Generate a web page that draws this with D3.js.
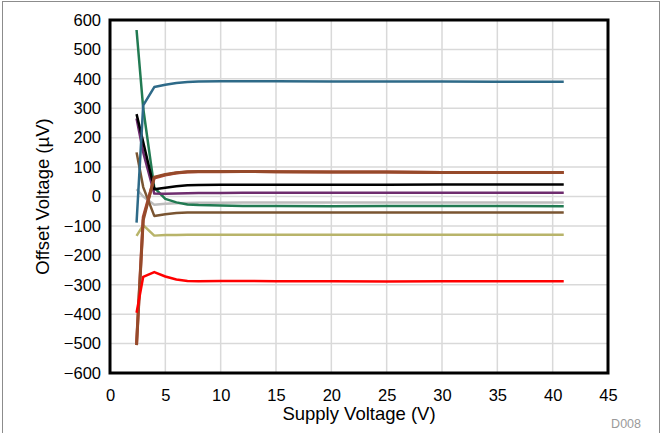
<!DOCTYPE html>
<html>
<head>
<meta charset="utf-8">
<script src="https://cdn.jsdelivr.net/npm/d3@7"></script>
<style>
  html, body { margin: 0; padding: 0; background: #fff; }
  svg { display: block; font-family: "Liberation Sans", Arial, sans-serif; }
</style>
</head>
<body>
<svg id="chart" width="661" height="433"></svg>
<script>
// Supply voltage sample points (V)
const supplyVoltage = [2.4, 3, 4, 5, 6, 7, 8, 10, 12, 15, 20, 25, 30, 35, 41];

// Offset voltage per unit (µV)
const unitBlue    = [-89, 310, 372, 380, 386, 389, 391, 392, 392, 392, 391, 391, 391, 390, 390];
const unitGreen   = [566, 300, 30, -8, -20, -27, -29, -31, -32, -32, -33, -32, -32, -32, -33];
const unitBlack   = [280, 185, 25, 30, 35, 38, 39, 40, 40, 40, 40, 40, 41, 41, 41];
const unitPurple  = [265, 150, 10, 9, 10, 11, 12, 12, 13, 13, 13, 13, 13, 13, 13];
const unitGray    = [25, 0, -28, -25, -23, -22, -21, -21, -20, -20, -20, -20, -20, -20, -20];
const unitBrown   = [150, 32, -66, -60, -56, -54, -54, -54, -54, -54, -54, -54, -54, -54, -54];
const unitRust    = [-500, -70, 63, 73, 80, 83, 84, 84, 85, 84, 83, 83, 82, 82, 82];
const unitSienna  = [-505, -80, 66, 75, 81, 84, 85, 85, 85, 84, 83, 83, 82, 82, 82];
const unitKhaki   = [-134, -97, -133, -131, -131, -130, -130, -130, -130, -130, -130, -130, -130, -130, -130];
const unitRed     = [-395, -273, -257, -272, -282, -287, -288, -287, -287, -288, -288, -289, -288, -288, -288];

// Axis ticks
const xTicks = [0, 5, 10, 15, 20, 25, 30, 35, 40, 45];
const yTicks = [-600, -500, -400, -300, -200, -100, 0, 100, 200, 300, 400, 500, 600];

const series = [
  { values: unitGray,   color: "#bdbdbd", width: 2.5 },
  { values: unitKhaki,  color: "#b8b46a", width: 2.5 },
  { values: unitBrown,  color: "#7a5532", width: 2.5 },
  { values: unitGreen,  color: "#217a52", width: 2.5 },
  { values: unitPurple, color: "#6e2c6e", width: 2.5 },
  { values: unitBlack,  color: "#000000", width: 2.5 },
  { values: unitBlue,   color: "#2e6a88", width: 2.5 },
  { values: unitRust,   color: "#b4473a", width: 3 },
  { values: unitSienna, color: "#964a2a", width: 3 },
  { values: unitRed,    color: "#ff0000", width: 2.5 }
];

const svg = d3.select("#chart");
const W = 661, H = 433;
const plot = { left: 110, right: 608, top: 20, bottom: 373 };

// Outer border
svg.append("rect")
  .attr("x", 2.5).attr("y", 1.5)
  .attr("width", W - 4).attr("height", H)
  .attr("fill", "none").attr("stroke", "#8c8c8c").attr("stroke-width", 1);

const x = d3.scaleLinear().domain([0, 45]).range([plot.left, plot.right]);
const y = d3.scaleLinear().domain([-600, 600]).range([plot.bottom, plot.top]);

// Grid lines
const grid = svg.append("g");
grid.selectAll("line.vx").data(xTicks.slice(1, -1)).join("line")
  .attr("x1", d => x(d)).attr("x2", d => x(d))
  .attr("y1", plot.top).attr("y2", plot.bottom)
  .attr("stroke", "#d9d9d9").attr("stroke-width", 1.5);
grid.selectAll("line.hy").data(yTicks.slice(1, -1)).join("line")
  .attr("x1", plot.left).attr("x2", plot.right)
  .attr("y1", d => y(d)).attr("y2", d => y(d))
  .attr("stroke", "#d9d9d9").attr("stroke-width", 1.5);

// Axes (labels only; frame drawn separately)
const xAxis = svg.append("g")
  .attr("transform", `translate(0,${plot.bottom})`)
  .call(d3.axisBottom(x).tickValues(xTicks).tickSize(0).tickPadding(16));
const yAxis = svg.append("g")
  .attr("transform", `translate(${plot.left},0)`)
  .call(d3.axisLeft(y).tickValues(yTicks).tickSize(0).tickPadding(9));
[xAxis, yAxis].forEach(g => {
  g.select(".domain").remove();
  g.selectAll("text")
    .attr("font-family", "Liberation Sans, Arial, sans-serif")
    .attr("font-size", 16.5).attr("fill", "#000");
});

// Curves
const line = d3.line()
  .x((d, i) => x(supplyVoltage[i]))
  .y(d => y(d));

svg.append("g").selectAll("path").data(series).join("path")
  .attr("d", s => line(s.values))
  .attr("fill", "none")
  .attr("stroke", s => s.color)
  .attr("stroke-width", s => s.width)
  .attr("stroke-linejoin", "round");

// Plot frame
svg.append("rect")
  .attr("x", plot.left).attr("y", plot.top)
  .attr("width", plot.right - plot.left).attr("height", plot.bottom - plot.top)
  .attr("fill", "none").attr("stroke", "#000").attr("stroke-width", 3);

// Axis titles
svg.append("text")
  .attr("x", (plot.left + plot.right) / 2).attr("y", 420)
  .attr("text-anchor", "middle").attr("font-size", 18.5)
  .text("Supply Voltage (V)");
svg.append("text")
  .attr("transform", `translate(49,${(plot.top + plot.bottom) / 2}) rotate(-90)`)
  .attr("text-anchor", "middle").attr("font-size", 18.5)
  .text("Offset Voltage (µV)");

svg.append("text")
  .attr("x", 641).attr("y", 428)
  .attr("text-anchor", "end").attr("font-size", 12.5).attr("fill", "#9a9a9a")
  .text("D008");
</script>
</body>
</html>
